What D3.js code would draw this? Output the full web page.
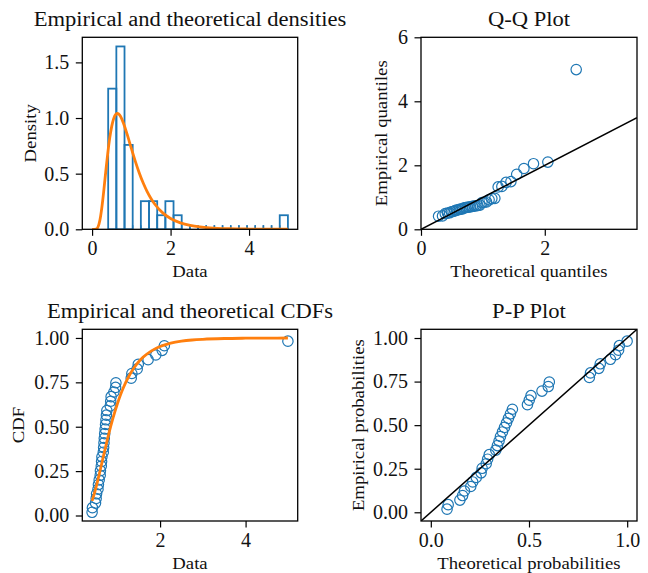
<!DOCTYPE html>
<html>
<head>
<meta charset="utf-8">
<script src="https://cdn.jsdelivr.net/npm/d3@7"></script>
<style>
  body { margin: 0; background: #fff; }
  svg { display: block; }
</style>
</head>
<body>
<svg id="fig" width="648" height="573"></svg>
<script>
// ---- data -------------------------------------------------------------
// Sorted sample (38 observations)
const sampleSorted = [
  0.410, 0.418, 0.490, 0.505, 0.515, 0.548, 0.558, 0.576, 0.600, 0.605,
  0.625, 0.632, 0.640, 0.672, 0.680, 0.688, 0.695, 0.705, 0.715, 0.725,
  0.735, 0.745, 0.755,
  0.835, 0.845, 0.855, 0.920, 0.960, 0.967,
  1.325, 1.340, 1.465, 1.490, 1.720, 1.900, 2.050, 2.100, 4.990
];
// Plotting positions (empirical probabilities) for each ranked observation
const empiricalProb = [
  0.0181, 0.0439, 0.0699, 0.0960, 0.1221, 0.1481, 0.1742, 0.2003, 0.2263, 0.2524,
  0.2784, 0.3045, 0.3306, 0.3566, 0.3827, 0.4088, 0.4348, 0.4609, 0.4870, 0.5130,
  0.5391, 0.5652, 0.5912, 0.6173, 0.6434, 0.6694, 0.6955, 0.7216, 0.7476, 0.7737,
  0.7997, 0.8258, 0.8519, 0.8779, 0.9040, 0.9301, 0.9561, 0.9819
];
// Theoretical quantiles of the fitted distribution at the plotting positions
const qqTheoretical = [
  0.2838, 0.3473, 0.3916, 0.4280, 0.4603, 0.4900, 0.5180, 0.5448, 0.5709, 0.5964,
  0.6218, 0.6468, 0.6718, 0.6971, 0.7225, 0.7486, 0.7747, 0.8017, 0.8294, 0.8581,
  0.8878, 0.9188, 0.9508, 0.9851, 1.0210, 1.0595, 1.1004, 1.1448, 1.1934, 1.2467,
  1.3064, 1.3741, 1.4527, 1.5462, 1.6630, 1.8176, 2.0494, 2.5078
];
// Fitted CDF evaluated at each observation
const ppTheoretical = [
  0.0826, 0.0884, 0.1481, 0.1619, 0.1713, 0.2033, 0.2133, 0.2315, 0.2561, 0.2613,
  0.2820, 0.2892, 0.2976, 0.3309, 0.3391, 0.3474, 0.3546, 0.3649, 0.3751, 0.3853,
  0.3954, 0.4055, 0.4155, 0.4921, 0.5012, 0.5102, 0.5661, 0.5981, 0.6035, 0.8073,
  0.8132, 0.8557, 0.8630, 0.9146, 0.9408, 0.9561, 0.9603, 0.9997
];
// Fitted density curve
const densityX = [0, 0.05, 0.1, 0.15, 0.2, 0.25, 0.3, 0.35, 0.4, 0.45,
  0.5, 0.55, 0.6, 0.65, 0.7, 0.75, 0.8, 0.9, 1.0, 1.1,
  1.2, 1.3, 1.4, 1.5, 1.6, 1.8, 2.0, 2.25, 2.5, 2.75,
  3.0, 3.5, 4.0, 4.5, 4.99];
const densityY = [0, 0, 0.0017, 0.0206, 0.0832, 0.1990, 0.3542, 0.5239, 0.6849, 0.8213,
  0.9251, 0.9944, 1.0315, 1.0408, 1.0276, 0.9971, 0.9540, 0.8459, 0.7273, 0.6124,
  0.5082, 0.4177, 0.3410, 0.2773, 0.2248, 0.1474, 0.0967, 0.0576, 0.0346, 0.0211,
  0.0130, 0.0052, 0.0022, 0.0010, 0.0005];
// Fitted cumulative distribution curve
const cdfX = [0.41, 0.45, 0.5, 0.55, 0.6, 0.65, 0.7, 0.75, 0.8, 0.9,
  1.0, 1.1, 1.2, 1.3, 1.4, 1.5, 1.6, 1.8, 2.0, 2.25,
  2.5, 2.75, 3.0, 3.5, 4.0, 4.5, 4.99];
const cdfY = [0.0826, 0.1134, 0.1572, 0.2053, 0.2561, 0.3080, 0.3598, 0.4105, 0.4593, 0.5494,
  0.6281, 0.6950, 0.7510, 0.7972, 0.8350, 0.8658, 0.8908, 0.9275, 0.9515, 0.9704,
  0.9816, 0.9885, 0.9926, 0.9969, 0.9986, 0.9994, 0.9997];

const histBins = 22;
const histTicksX = [0, 2, 4], histTicksY = [0, 0.5, 1.0, 1.5];
const qqTicksX = [0, 2], qqTicksY = [0, 2, 4, 6];
const qqLimX = [0, 3.49], qqLimY = [0, 6];
const cdfTicksX = [2, 4], cdfTicksY = [0, 0.25, 0.5, 0.75, 1.0];
const ppTicksX = [0, 0.5, 1.0], ppTicksY = [0, 0.25, 0.5, 0.75, 1.0];
const ppLim = [-0.05, 1.05];

// ---- styling ----------------------------------------------------------
const BLUE = "#1f77b4", ORANGE = "#ff7f0e";
const FONT = "'Liberation Serif', 'Times New Roman', serif";
const svg = d3.select("#fig");

const frames = {
  hist: { l: 82.3, r: 297.7, t: 37.3, b: 229.3 },
  qq:   { l: 421,  r: 637,   t: 37.3, b: 229.3 },
  cdf:  { l: 82.3, r: 297.7, t: 329.3, b: 521 },
  pp:   { l: 421,  r: 637,   t: 329.3, b: 521 }
};

const pad = ([lo, hi]) => [lo - 0.05 * (hi - lo), hi + 0.05 * (hi - lo)];

function widen(sel, k) {
  sel.each(function () {
    const L = this.getComputedTextLength();
    this.setAttribute("textLength", (L * k).toFixed(1));
    this.setAttribute("lengthAdjust", "spacingAndGlyphs");
  });
  return sel;
}

let clipCount = 0;
function panel(f, xDom, yDom, o) {
  const x = d3.scaleLinear().domain(xDom).range([f.l, f.r]);
  const y = d3.scaleLinear().domain(yDom).range([f.b, f.t]);
  const g = svg.append("g");
  const id = "clip" + (clipCount++);
  g.append("clipPath").attr("id", id).append("rect")
    .attr("x", f.l).attr("y", f.t).attr("width", f.r - f.l).attr("height", f.b - f.t);
  const plot = g.append("g").attr("clip-path", `url(#${id})`);

  const ax = g.append("g").attr("transform", `translate(0,${f.b})`)
    .call(d3.axisBottom(x).tickValues(o.xt).tickFormat(o.fx)
      .tickSizeInner(6.5).tickSizeOuter(0).tickPadding(5));
  const ay = g.append("g").attr("transform", `translate(${f.l},0)`)
    .call(d3.axisLeft(y).tickValues(o.yt).tickFormat(o.fy)
      .tickSizeInner(6.5).tickSizeOuter(0).tickPadding(6.5));
  [ax, ay].forEach(a => {
    a.select(".domain").remove();
    a.selectAll(".tick line").attr("stroke", "#000").attr("stroke-width", 1.2);
    a.selectAll(".tick text").attr("font-family", FONT).attr("font-size", 20)
      .attr("fill", "#111");
  });

  // frame drawn after the marks (see finish)
  const finish = () => {
    g.append("rect").attr("x", f.l).attr("y", f.t)
      .attr("width", f.r - f.l).attr("height", f.b - f.t)
      .attr("fill", "none").attr("stroke", "#000").attr("stroke-width", 1.3);
  };

  const cx = (f.l + f.r) / 2, cy = (f.t + f.b) / 2;
  widen(g.append("text").attr("x", cx).attr("y", f.t - 11.8)
    .attr("text-anchor", "middle").attr("font-family", FONT).attr("font-size", 20.5)
    .attr("fill", "#111").text(o.title), 1.1);
  widen(g.append("text").attr("x", cx).attr("y", f.b + 48)
    .attr("text-anchor", "middle").attr("font-family", FONT).attr("font-size", 17)
    .attr("fill", "#111").text(o.xlabel), 1.1);
  widen(g.append("text")
    .attr("transform", `translate(${o.ylx},${cy}) rotate(-90)`)
    .attr("text-anchor", "middle").attr("dy", "0.35em")
    .attr("font-family", FONT).attr("font-size", 17)
    .attr("fill", "#111").text(o.ylabel), 1.1);

  return { x, y, plot, finish };
}

const lineGen = (x, y) => d3.line().x(d => x(d[0])).y(d => y(d[1]));
const n = sampleSorted.length;

// ---- 1. histogram with fitted density ----------------------------------
{
  const lo = d3.min(sampleSorted), hi = d3.max(sampleSorted);
  const w = (hi - lo) / histBins;
  const bins = d3.bin().domain([lo, hi])
    .thresholds(d3.range(1, histBins).map(i => lo + i * w))(sampleSorted);
  const dens = bins.map(b => ({ x0: b.x0, x1: b.x1, d: b.length / (n * w) }));
  const p = panel(frames.hist,
    pad([d3.min(densityX), d3.max(densityX)]),
    [0, d3.max(dens, b => b.d) * 1.05],
    { xt: histTicksX, yt: histTicksY, fx: d3.format("d"), fy: d3.format(".1f"),
      title: "Empirical and theoretical densities", xlabel: "Data", ylabel: "Density", ylx: 30 });
  const { x, y, plot } = p;
  plot.selectAll("rect.bar").data(dens.filter(b => b.d > 0)).join("rect")
    .attr("class", "bar")
    .attr("x", b => x(b.x0)).attr("width", b => x(b.x1) - x(b.x0))
    .attr("y", b => y(b.d)).attr("height", b => y(0) - y(b.d))
    .attr("fill", "none").attr("stroke", BLUE).attr("stroke-width", 1.8);
  // empty bins still leave their outline stubs on the baseline
  const stubs = [];
  dens.filter(b => b.d === 0).forEach(b => { stubs.push(b.x0, b.x1); });
  plot.selectAll("line.stub").data(stubs).join("line").attr("class", "stub")
    .attr("x1", v => x(v)).attr("x2", v => x(v))
    .attr("y1", y(0)).attr("y2", y(0) - 4)
    .attr("stroke", BLUE).attr("stroke-width", 1.5);
  plot.append("path").datum(d3.zip(densityX, densityY))
    .attr("d", lineGen(x, y).curve(d3.curveMonotoneX))
    .attr("fill", "none").attr("stroke", ORANGE).attr("stroke-width", 2.8);
  p.finish();
}

// ---- 2. Q-Q plot ---------------------------------------------------------
{
  const p = panel(frames.qq, qqLimX, qqLimY,
    { xt: qqTicksX, yt: qqTicksY, fx: d3.format("d"), fy: d3.format("d"),
      title: "Q-Q Plot", xlabel: "Theoretical quantiles", ylabel: "Empirical quantiles", ylx: 381 });
  const { x, y, plot } = p;
  plot.selectAll("circle").data(d3.zip(qqTheoretical, sampleSorted)).join("circle")
    .attr("cx", d => x(d[0])).attr("cy", d => y(d[1])).attr("r", 5.2)
    .attr("fill", "none").attr("stroke", BLUE).attr("stroke-width", 1.2);
  plot.append("path").datum([[qqLimX[0], qqLimX[0]], [qqLimX[1], qqLimX[1]]])
    .attr("d", lineGen(x, y)).attr("stroke", "#000").attr("stroke-width", 1.5);
  p.finish();
}

// ---- 3. empirical vs fitted CDF ------------------------------------------
{
  const allY = empiricalProb.concat(cdfY);
  const p = panel(frames.cdf,
    pad([d3.min(sampleSorted), d3.max(sampleSorted)]),
    pad([d3.min(allY), d3.max(allY)]),
    { xt: cdfTicksX, yt: cdfTicksY, fx: d3.format("d"), fy: d3.format(".2f"),
      title: "Empirical and theoretical CDFs", xlabel: "Data", ylabel: "CDF", ylx: 18 });
  const { x, y, plot } = p;
  plot.selectAll("circle").data(d3.zip(sampleSorted, empiricalProb)).join("circle")
    .attr("cx", d => x(d[0])).attr("cy", d => y(d[1])).attr("r", 5.2)
    .attr("fill", "none").attr("stroke", BLUE).attr("stroke-width", 1.2);
  plot.append("path").datum(d3.zip(cdfX, cdfY))
    .attr("d", lineGen(x, y).curve(d3.curveMonotoneX))
    .attr("fill", "none").attr("stroke", ORANGE).attr("stroke-width", 2.8);
  p.finish();
}

// ---- 4. P-P plot ---------------------------------------------------------
{
  const p = panel(frames.pp, ppLim, ppLim,
    { xt: ppTicksX, yt: ppTicksY, fx: d3.format(".1f"), fy: d3.format(".2f"),
      title: "P-P Plot", xlabel: "Theoretical probabilities", ylabel: "Empirical probabilities", ylx: 358 });
  const { x, y, plot } = p;
  plot.selectAll("circle").data(d3.zip(ppTheoretical, empiricalProb)).join("circle")
    .attr("cx", d => x(d[0])).attr("cy", d => y(d[1])).attr("r", 5.2)
    .attr("fill", "none").attr("stroke", BLUE).attr("stroke-width", 1.2);
  plot.append("path").datum([[ppLim[0], ppLim[0]], [ppLim[1], ppLim[1]]])
    .attr("d", lineGen(x, y)).attr("stroke", "#000").attr("stroke-width", 1.5);
  p.finish();
}
</script>
</body>
</html>
